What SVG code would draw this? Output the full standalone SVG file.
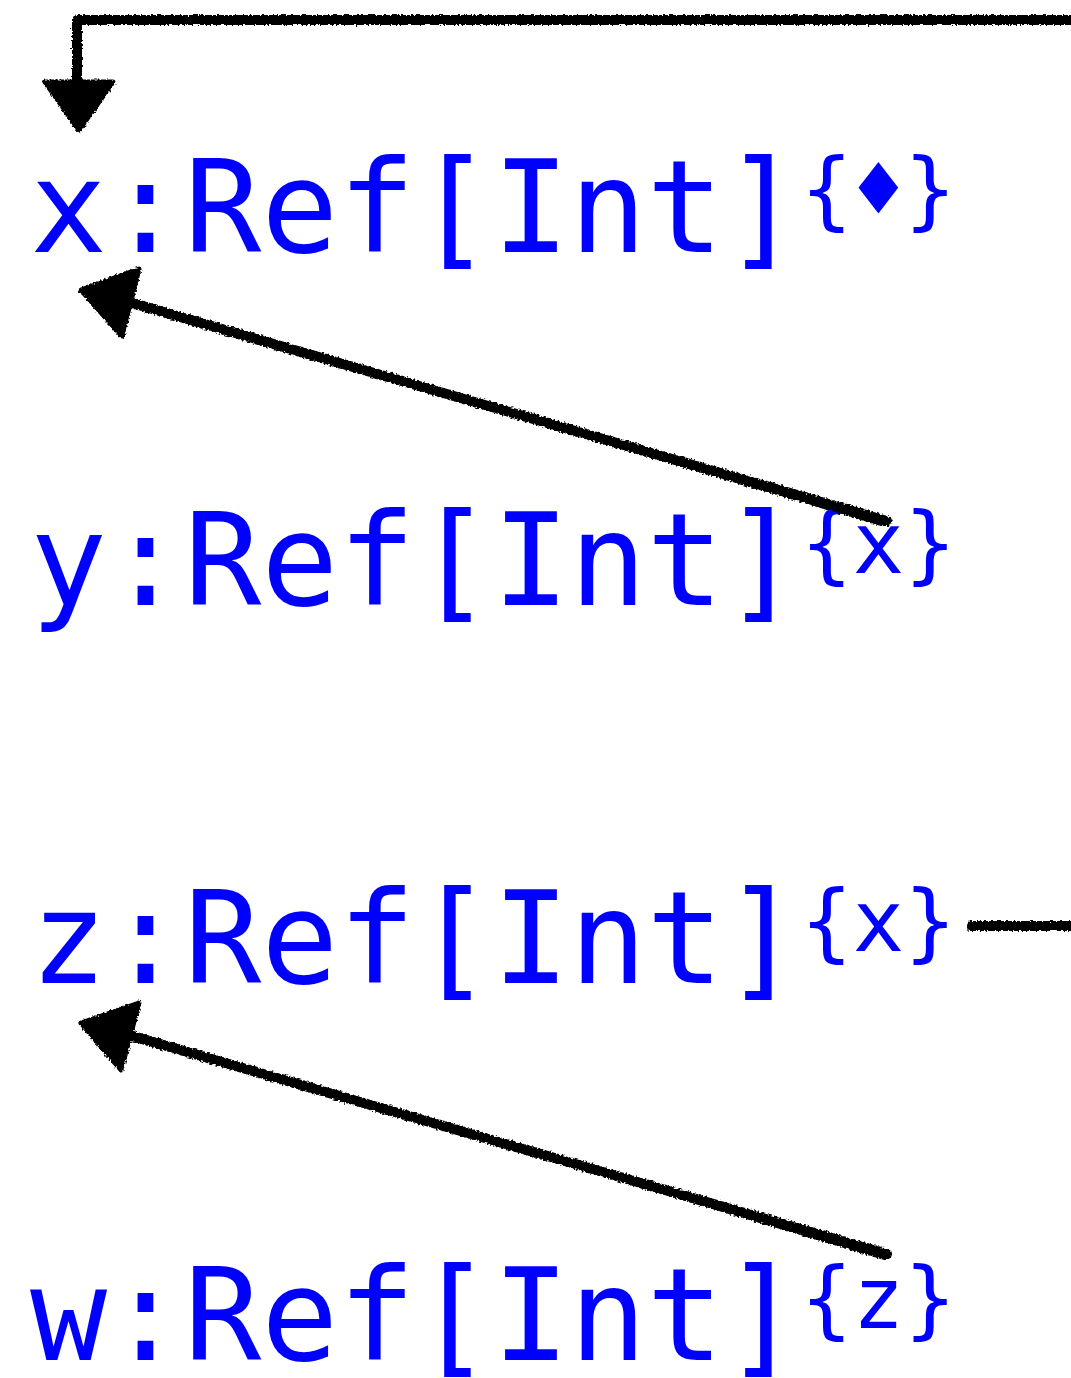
<svg xmlns="http://www.w3.org/2000/svg" width="1071" height="1378" viewBox="0 0 1071 1378">
  <style>
    .t { font-family: "DejaVu Sans Mono", "Liberation Mono", monospace; font-size: 128px; fill: #0000ff; }
    .s { font-size: 86px; }
    .ln { fill: none; stroke: #000; stroke-width: 10; stroke-linecap: round; stroke-linejoin: round; }
    .ln2 { fill: none; stroke: #000; stroke-width: 6; stroke-linecap: round; stroke-linejoin: round; }
    .hd { fill: #000; stroke: #000; stroke-width: 5; stroke-linejoin: round; }
  </style>
  <defs>
    <filter id="rough" filterUnits="userSpaceOnUse" x="0" y="0" width="1071" height="1378">
      <feTurbulence type="fractalNoise" baseFrequency="0.5" numOctaves="2" seed="4" result="n"/>
      <feDisplacementMap in="SourceGraphic" in2="n" scale="5" xChannelSelector="R" yChannelSelector="G"/>
    </filter>
  </defs>
  <rect width="1071" height="1378" fill="#fff"/>

  <g id="node-x"><text class="t" x="30" y="252">x:Ref[Int]<tspan class="s" dy="-33">{♦}</tspan></text></g>
  <g id="node-y"><text class="t" x="30" y="605">y:Ref[Int]<tspan class="s" dy="-32">{x}</tspan></text></g>
  <g id="node-z"><text class="t" x="30" y="983">z:Ref[Int]<tspan class="s" dy="-32">{x}</tspan></text></g>
  <g id="node-w"><text class="t" x="30" y="1360">w:Ref[Int]<tspan class="s" dy="-32">{z}</tspan></text></g>

  <g id="connectors" filter="url(#rough)">
    <path class="ln" d="M972 926 L1078 926 L1078 20 L77 20 L77 82"/>
    <path class="ln2" d="M970 928 L1077 925 L1079 22 L78 18 L76 80"/>
    <polygon class="hd" points="45,82 113,82 79,130"/>
    <path class="ln" d="M887 521 L128 302"/>
    <path class="ln2" d="M885 524 L126 299"/>
    <polygon class="hd" points="81,290 139,269 122,336"/>
    <path class="ln" d="M887 1254 L128 1035"/>
    <path class="ln2" d="M885 1257 L126 1032"/>
    <polygon class="hd" points="81,1023 139,1003 121,1070"/>
  </g>
</svg>
